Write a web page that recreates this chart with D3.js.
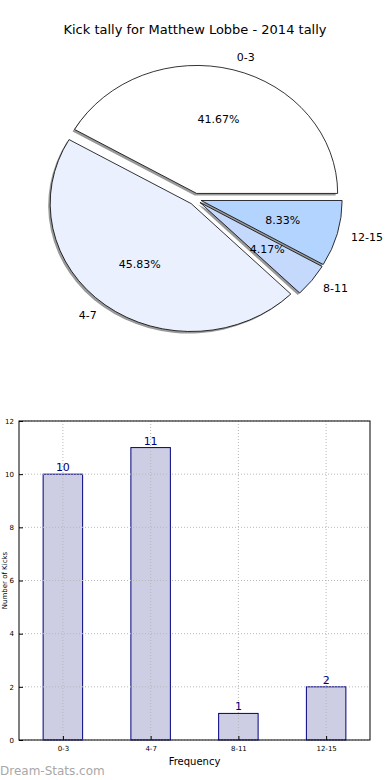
<!DOCTYPE html>
<html>
<head>
<meta charset="utf-8">
<script src="https://cdn.jsdelivr.net/npm/d3@7"></script>
<style>
  body { margin: 0; background: #fff; }
  svg { display: block; font-family: "DejaVu Sans", sans-serif; }
</style>
</head>
<body>
<script>
/* chart data */
const title = 'Kick tally for Matthew Lobbe - 2014 tally';
const categories = ['0-3', '4-7', '8-11', '12-15'];
const counts = [10, 11, 1, 2];
const sliceColors = ['#ffffff', '#eaf0fe', '#c5d9fd', '#b3d4fe'];
const yTicks = [0, 2, 4, 6, 8, 10, 12];

const W = 390, H = 780;
const svg = d3.select('body').append('svg')
  .attr('width', W)
  .attr('height', H);

svg.append('text')
  .attr('x', 195)
  .attr('y', 34)
  .attr('text-anchor', 'middle')
  .style('font-size', '13px')
  .text(title);

/* pie (elliptical, as in the original) */
const cx = 195, cy = 199, rx = 141, ry = 128, explode = 0.045;
const total = d3.sum(counts);

// matplotlib starts at 3 o'clock and goes counter-clockwise
const pie = d3.pie().sort(null)
  .startAngle(Math.PI / 2)
  .endAngle(Math.PI / 2 - 2 * Math.PI);
const arc = d3.arc().innerRadius(0).outerRadius(1);

const slices = pie(counts).map((d, i) => {
  const mid = (d.startAngle + d.endAngle) / 2;
  const ux = Math.sin(mid), uy = -Math.cos(mid);
  return {
    d, i, ux, uy,
    x: cx + ux * explode * rx,
    y: cy + uy * explode * ry
  };
});

const pieG = svg.append('g');

// shadows first
pieG.selectAll('.shadow')
  .data(slices)
  .enter().append('path')
  .attr('class', 'shadow')
  .attr('transform', s => `translate(${s.x - 2},${s.y + 2}) scale(${rx},${ry})`)
  .attr('d', s => arc(s.d))
  .style('fill', '#999999')
  .style('stroke', 'none');

pieG.selectAll('.slice')
  .data(slices)
  .enter().append('path')
  .attr('class', 'slice')
  .attr('transform', s => `translate(${s.x},${s.y}) scale(${rx},${ry})`)
  .attr('d', s => arc(s.d))
  .attr('vector-effect', 'non-scaling-stroke')
  .style('fill', s => sliceColors[s.i])
  .style('stroke', '#000')
  .style('stroke-width', 0.8);

// category labels at 1.1 radius
pieG.selectAll('.plabel')
  .data(slices)
  .enter().append('text')
  .attr('x', s => s.x + s.ux * 1.1 * rx)
  .attr('y', s => s.y + s.uy * 1.1 * ry)
  .attr('dy', '0.35em')
  .attr('text-anchor', s => s.ux > 0 ? 'start' : 'end')
  .style('font-size', '11px')
  .text(s => categories[s.i]);

// percentages at 0.6 radius
pieG.selectAll('.pct')
  .data(slices)
  .enter().append('text')
  .attr('x', s => s.x + s.ux * 0.6 * rx)
  .attr('y', s => s.y + s.uy * 0.6 * ry)
  .attr('dy', '0.35em')
  .attr('text-anchor', 'middle')
  .style('font-size', '11px')
  .text(s => (100 * counts[s.i] / total).toFixed(2) + '%');

/* bar chart */
const plotLeft = 19, plotRight = 370, plotTop = 421, plotBottom = 740;

const xScale = d3.scalePoint()
  .domain(categories)
  .range([plotLeft, plotRight])
  .padding(0.5);
const yScale = d3.scaleLinear().domain([0, 12]).range([plotBottom, plotTop]);
const barW = xScale.step() * 0.45;

svg.selectAll('.bar')
  .data(counts)
  .enter().append('rect')
  .attr('x', (d, i) => xScale(categories[i]) - barW / 2)
  .attr('y', d => yScale(d))
  .attr('width', barW)
  .attr('height', d => plotBottom - yScale(d))
  .style('fill', '#cdcde3')
  .style('stroke', '#000080')
  .style('stroke-width', 1);

const grid = svg.append('g');
grid.selectAll('.hg')
  .data(yTicks)
  .enter().append('line')
  .attr('x1', plotLeft).attr('x2', plotRight)
  .attr('y1', d => yScale(d)).attr('y2', d => yScale(d))
  .style('stroke', '#b8b8b8')
  .style('stroke-dasharray', '1,2');
grid.selectAll('.vg')
  .data(categories)
  .enter().append('line')
  .attr('x1', d => xScale(d)).attr('x2', d => xScale(d))
  .attr('y1', plotTop).attr('y2', plotBottom)
  .style('stroke', '#b8b8b8')
  .style('stroke-dasharray', '1,2');

svg.selectAll('.val')
  .data(counts)
  .enter().append('text')
  .attr('x', (d, i) => xScale(categories[i]))
  .attr('y', d => yScale(d) - 3)
  .attr('text-anchor', 'middle')
  .style('font-size', '11px')
  .style('fill', '#000080')
  .text(d => d);

// axes
const yAxis = d3.axisLeft(yScale).tickValues(yTicks).tickSize(-4).tickPadding(5);
const gy = svg.append('g').attr('transform', `translate(${plotLeft},0)`).call(yAxis);
const xAxis = d3.axisBottom(xScale).tickSize(-4).tickPadding(6);
const gx = svg.append('g').attr('transform', `translate(0,${plotBottom})`).call(xAxis);
[gx, gy].forEach(g => {
  g.select('.domain').remove();
  g.selectAll('text').style('font-size', '7px').style('font-family', '"DejaVu Sans", sans-serif').attr('fill', '#000');
  g.selectAll('line').style('stroke', '#000');
});

svg.append('rect')
  .attr('x', plotLeft).attr('y', plotTop)
  .attr('width', plotRight - plotLeft).attr('height', plotBottom - plotTop)
  .style('fill', 'none')
  .style('stroke', '#000')
  .style('stroke-width', 1);

svg.append('text')
  .attr('x', (plotLeft + plotRight) / 2)
  .attr('y', 765)
  .attr('text-anchor', 'middle')
  .style('font-size', '10px')
  .text('Frequency');

svg.append('text')
  .attr('transform', `translate(7,${(plotTop + plotBottom) / 2}) rotate(-90)`)
  .attr('text-anchor', 'middle')
  .style('font-size', '7px')
  .text('Number of Kicks');

svg.append('text')
  .attr('x', 0)
  .attr('y', 775)
  .style('font-size', '12px')
  .style('fill', '#a8a8a8')
  .text('Dream-Stats.com');
</script>
</body>
</html>
